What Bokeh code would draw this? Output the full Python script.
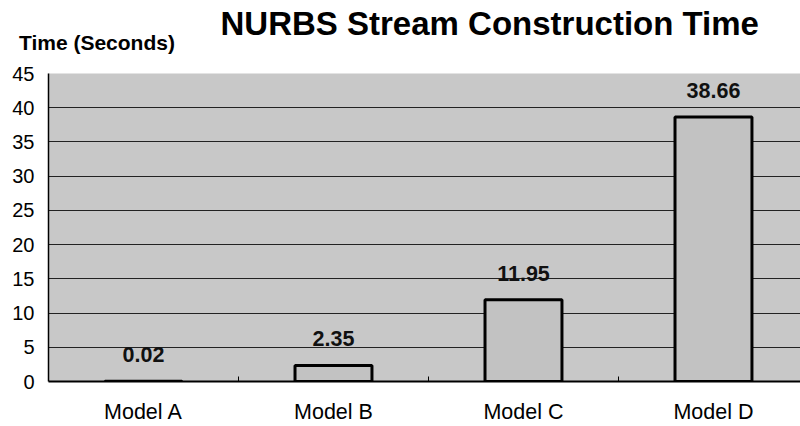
from bokeh.plotting import figure
from bokeh.models import Range1d, FixedTicker, ColumnDataSource, Title, LinearAxis
from bokeh.core.properties import value
from bokeh.embed import file_html
from bokeh.resources import INLINE

models = ["Model A", "Model B", "Model C", "Model D"]
times = [0.02, 2.35, 11.95, 38.66]
y_ticks = [0, 5, 10, 15, 20, 25, 30, 35, 40, 45]
title_text = "NURBS Stream Construction Time"
ylabel_text = "Time (Seconds)"

FONT = "Liberation Sans"
xs = [i + 0.5 for i in range(len(models))]
src = ColumnDataSource(dict(x=xs, top=times, label=["{:.2f}".format(t) for t in times]))

p = figure(width=800, height=426, output_backend="svg", toolbar_location=None,
           x_range=Range1d(0, 3.958), y_range=Range1d(0, 45),
           min_border_left=48, min_border_right=0, min_border_bottom=37, min_border_top=73)
p.title = None
p.background_fill_color = "#c8c8c8"
p.border_fill_color = "white"
p.outline_line_color = None

p.vbar(x="x", top="top", width=0.405, bottom=0, source=src,
       fill_color="#c2c2c2", line_color="black", line_width=3)
p.text(x="x", y="top", text="label", source=src, text_align="center", text_baseline="bottom",
       y_offset=-19, text_font=value(FONT), text_font_style="bold", text_font_size="21.5px",
       text_color="#111111")

p.xaxis.ticker = FixedTicker(ticks=xs, minor_ticks=[1, 2, 3])
p.xaxis.major_label_overrides = {x: m for x, m in zip(xs, models)}
p.xaxis.major_tick_line_color = None
p.xaxis.minor_tick_in = 5
p.xaxis.minor_tick_out = 0
p.xaxis.minor_tick_line_color = "black"
p.xaxis.axis_line_color = "black"
p.xaxis.axis_line_width = 2
p.xaxis.major_label_standoff = 12
p.xaxis.major_label_text_font = FONT
p.xaxis.major_label_text_font_size = "21.5px"
p.xaxis.major_label_text_color = "black"

p.yaxis.ticker = FixedTicker(ticks=y_ticks)
p.yaxis.major_tick_out = 0
p.yaxis.major_tick_in = 0
p.yaxis.minor_tick_line_color = None
p.yaxis.axis_line_color = "black"
p.yaxis.axis_line_width = 1.5
p.yaxis.major_label_standoff = 14
p.yaxis.major_label_text_font = FONT
p.yaxis.major_label_text_font_size = "20px"
p.yaxis.major_label_text_color = "black"

p.xgrid.grid_line_color = None
p.ygrid.grid_line_color = "#222222"
p.ygrid.grid_line_width = 1

# y-axis caption placed above the frame (as in the original)
ylab_x = 0.255
top_ax = LinearAxis(ticker=FixedTicker(ticks=[ylab_x], minor_ticks=[]),
                    major_label_overrides={ylab_x: ylabel_text})
top_ax.axis_line_color = None
top_ax.major_tick_line_color = None
top_ax.minor_tick_line_color = None
top_ax.major_tick_in = 0
top_ax.major_tick_out = 0
top_ax.major_label_standoff = 20
top_ax.major_label_text_font = FONT
top_ax.major_label_text_font_size = "21px"
top_ax.major_label_text_font_style = "bold"
top_ax.major_label_text_color = "black"
p.add_layout(top_ax, "above")

main = Title(text=title_text, align="left", offset=172, text_font=FONT,
             text_font_size="33px", text_font_style="bold", text_color="black", standoff=-28)
p.add_layout(main, "above")

open("out.html", "w").write(file_html(p, INLINE))
